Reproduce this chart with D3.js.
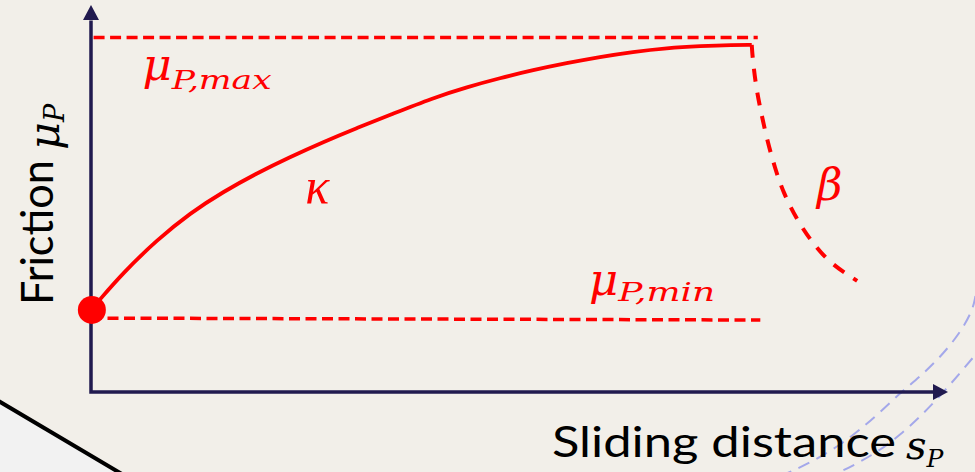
<!DOCTYPE html>
<html>
<head>
<meta charset="utf-8">
<script src="https://cdn.jsdelivr.net/npm/d3@7"></script>
<style>
  html, body { margin: 0; padding: 0; background: #f2efe9; }
  svg { display: block; }
</style>
</head>
<body>
<div id="chart"></div>
<script>
// sliding distance s (x) and friction mu (y)
const kappaS  = [0, 0.1, 0.37, 0.77, 1.16, 1.54, 1.94, 2.32, 2.71, 3.10, 3.49, 3.99, 4.39, 4.77, 5.16, 5.55, 5.94, 6.32, 6.72, 7.11, 7.49, 7.71];
const kappaMu = [0.212, 0.238, 0.307, 0.393, 0.463, 0.517, 0.566, 0.607, 0.646, 0.682, 0.716, 0.760, 0.788, 0.811, 0.832, 0.850, 0.866, 0.879, 0.889, 0.894, 0.897, 0.897];

const betaS  = [7.71, 7.72, 7.76, 7.82, 7.89, 7.98, 8.08, 8.24, 8.41, 8.62, 8.94];
const betaMu = [0.897, 0.863, 0.788, 0.721, 0.651, 0.579, 0.514, 0.444, 0.388, 0.333, 0.287];

const muMaxS  = [0.03, 7.78];
const muMaxMu = [0.916, 0.916];
const muMinS  = [0, 7.81];
const muMinMu = [0.191, 0.186];

const startS = 0.01, startMu = 0.212;

// faint decorative lines around the chart
const slashS  = [-1.18, 0.46];
const slashMu = [-0.010, -0.225];
const waveAS  = [10.32, 10.29, 10.14, 9.91, 9.67, 9.44, 9.21, 8.97, 8.74, 8.45, 8.16, 7.98];
const waveAMu = [0.248, 0.212, 0.152, 0.090, 0.039, -0.003, -0.052, -0.098, -0.137, -0.176, -0.207, -0.222];
const waveBS  = [10.43, 10.32, 10.14, 9.91, 9.67, 9.44, 9.21, 8.97, 8.74, 8.57];
const waveBMu = [0.127, 0.096, 0.049, -0.010, -0.065, -0.111, -0.150, -0.181, -0.207, -0.222];

const width = 975, height = 472;
const red = "#ff0000", ink = "#211a4f";

const svg = d3.select("#chart").append("svg")
  .attr("width", width).attr("height", height);

const x = d3.scaleLinear().domain([0, 10]).range([91, 948]);
const y = d3.scaleLinear().domain([0, 1]).range([392, 5]);

const zip = (a, b) => a.map((v, i) => [v, b[i]]);
const line = d3.line().x(d => x(d[0])).y(d => y(d[1]));
const smooth = d3.line().x(d => x(d[0])).y(d => y(d[1])).curve(d3.curveBasis);

// lighter corner bottom-left
const sl = zip(slashS, slashMu);
svg.append("path")
  .attr("d", line([sl[0], sl[1], [slashS[1], -0.3], [slashS[0], -0.3]]))
  .attr("fill", "#f2f2f2");
svg.append("path")
  .attr("d", line(sl))
  .attr("stroke", "#000").attr("stroke-width", 4).attr("fill", "none");

// purple dashed waves
[[waveAS, waveAMu], [waveBS, waveBMu]].forEach(([s, m]) => {
  svg.append("path")
    .attr("d", smooth(zip(s, m)))
    .attr("fill", "none").attr("stroke", "#a4a8ea")
    .attr("stroke-width", 2).attr("stroke-dasharray", "12,8");
});

// axes
svg.append("path")
  .attr("d", `M${x(0)},${y(0.96)} V${y(0)} H${x(9.83)}`)
  .attr("fill", "none").attr("stroke", ink)
  .attr("stroke-width", 3.5).attr("stroke-linejoin", "miter");
svg.append("path")
  .attr("d", `M${x(0)},${y(1)} L${x(0) - 8},${y(0.961)} L${x(0) + 8},${y(0.961)} Z`)
  .attr("fill", ink);
svg.append("path")
  .attr("d", `M${x(10)},${y(0)} L${x(9.825)},${y(0) - 8} L${x(9.825)},${y(0) + 8} Z`)
  .attr("fill", ink);

// dashed limits
[[muMaxS, muMaxMu], [muMinS, muMinMu]].forEach(([s, m]) => {
  svg.append("path")
    .attr("d", line(zip(s, m)))
    .attr("fill", "none").attr("stroke", red)
    .attr("stroke-width", 3.5).attr("stroke-dasharray", "11,5.5");
});

// kappa curve
svg.append("path")
  .attr("d", smooth(zip(kappaS, kappaMu)))
  .attr("fill", "none").attr("stroke", red).attr("stroke-width", 3.8);

// beta decay
svg.append("path")
  .attr("d", smooth(zip(betaS, betaMu)))
  .attr("fill", "none").attr("stroke", red)
  .attr("stroke-width", 4).attr("stroke-dasharray", "13,11");

svg.append("circle")
  .attr("cx", x(startS)).attr("cy", y(startMu)).attr("r", 14)
  .attr("fill", red);

// labels
const math = "'DejaVu Serif', serif";
const sans = "Lato, 'Open Sans', sans-serif";

function mathLabel(g, main, sub, px, py, mainSize, subLen, subShift, color, font) {
  const t = g.append("text").attr("x", px).attr("y", py)
    .attr("fill", color).attr("font-family", font || math).attr("font-style", "italic");
  t.append("tspan").attr("font-size", mainSize).text(main);
  if (sub) {
    t.append("tspan").attr("font-size", 26).attr("dy", subShift)
      .attr("textLength", subLen).attr("lengthAdjust", "spacingAndGlyphs").text(sub);
  }
  return t;
}

mathLabel(svg, "μ", "P,max", x(0.60), y(0.806), 45, 100, 9, red);
mathLabel(svg, "μ", "P,min", x(5.81), y(0.251), 45, 97, 6, red);
mathLabel(svg, "κ", null, x(2.50), y(0.488), 50, 0, 0, red, "'Liberation Serif', serif");
mathLabel(svg, "β", null, x(8.47), y(0.496), 44, 0, 0, red);

// x-axis title
svg.append("text")
  .attr("x", 552).attr("y", 457)
  .attr("font-family", sans).attr("font-size", 43).attr("fill", "#000")
  .attr("textLength", 344).attr("lengthAdjust", "spacingAndGlyphs")
  .text("Sliding distance");
const sx = svg.append("text").attr("x", 906).attr("y", 459)
  .attr("fill", "#000").attr("font-family", math).attr("font-style", "italic");
sx.append("tspan").attr("font-size", 40).text("s");
sx.append("tspan").attr("font-size", 25).attr("dy", 8).text("P");

// y-axis title
const yt = svg.append("g").attr("transform", "translate(53,305) rotate(-90)");
yt.append("text").attr("x", 0).attr("y", 0)
  .attr("font-family", sans).attr("font-size", 45).attr("fill", "#000")
  .attr("textLength", 145).attr("lengthAdjust", "spacingAndGlyphs")
  .text("Friction");
const ym = yt.append("text").attr("x", 155).attr("y", 6)
  .attr("fill", "#000").attr("font-family", math).attr("font-style", "italic");
ym.append("tspan").attr("font-size", 43).text("μ");
ym.append("tspan").attr("font-size", 27).attr("dy", 5).text("P");
</script>
</body>
</html>
